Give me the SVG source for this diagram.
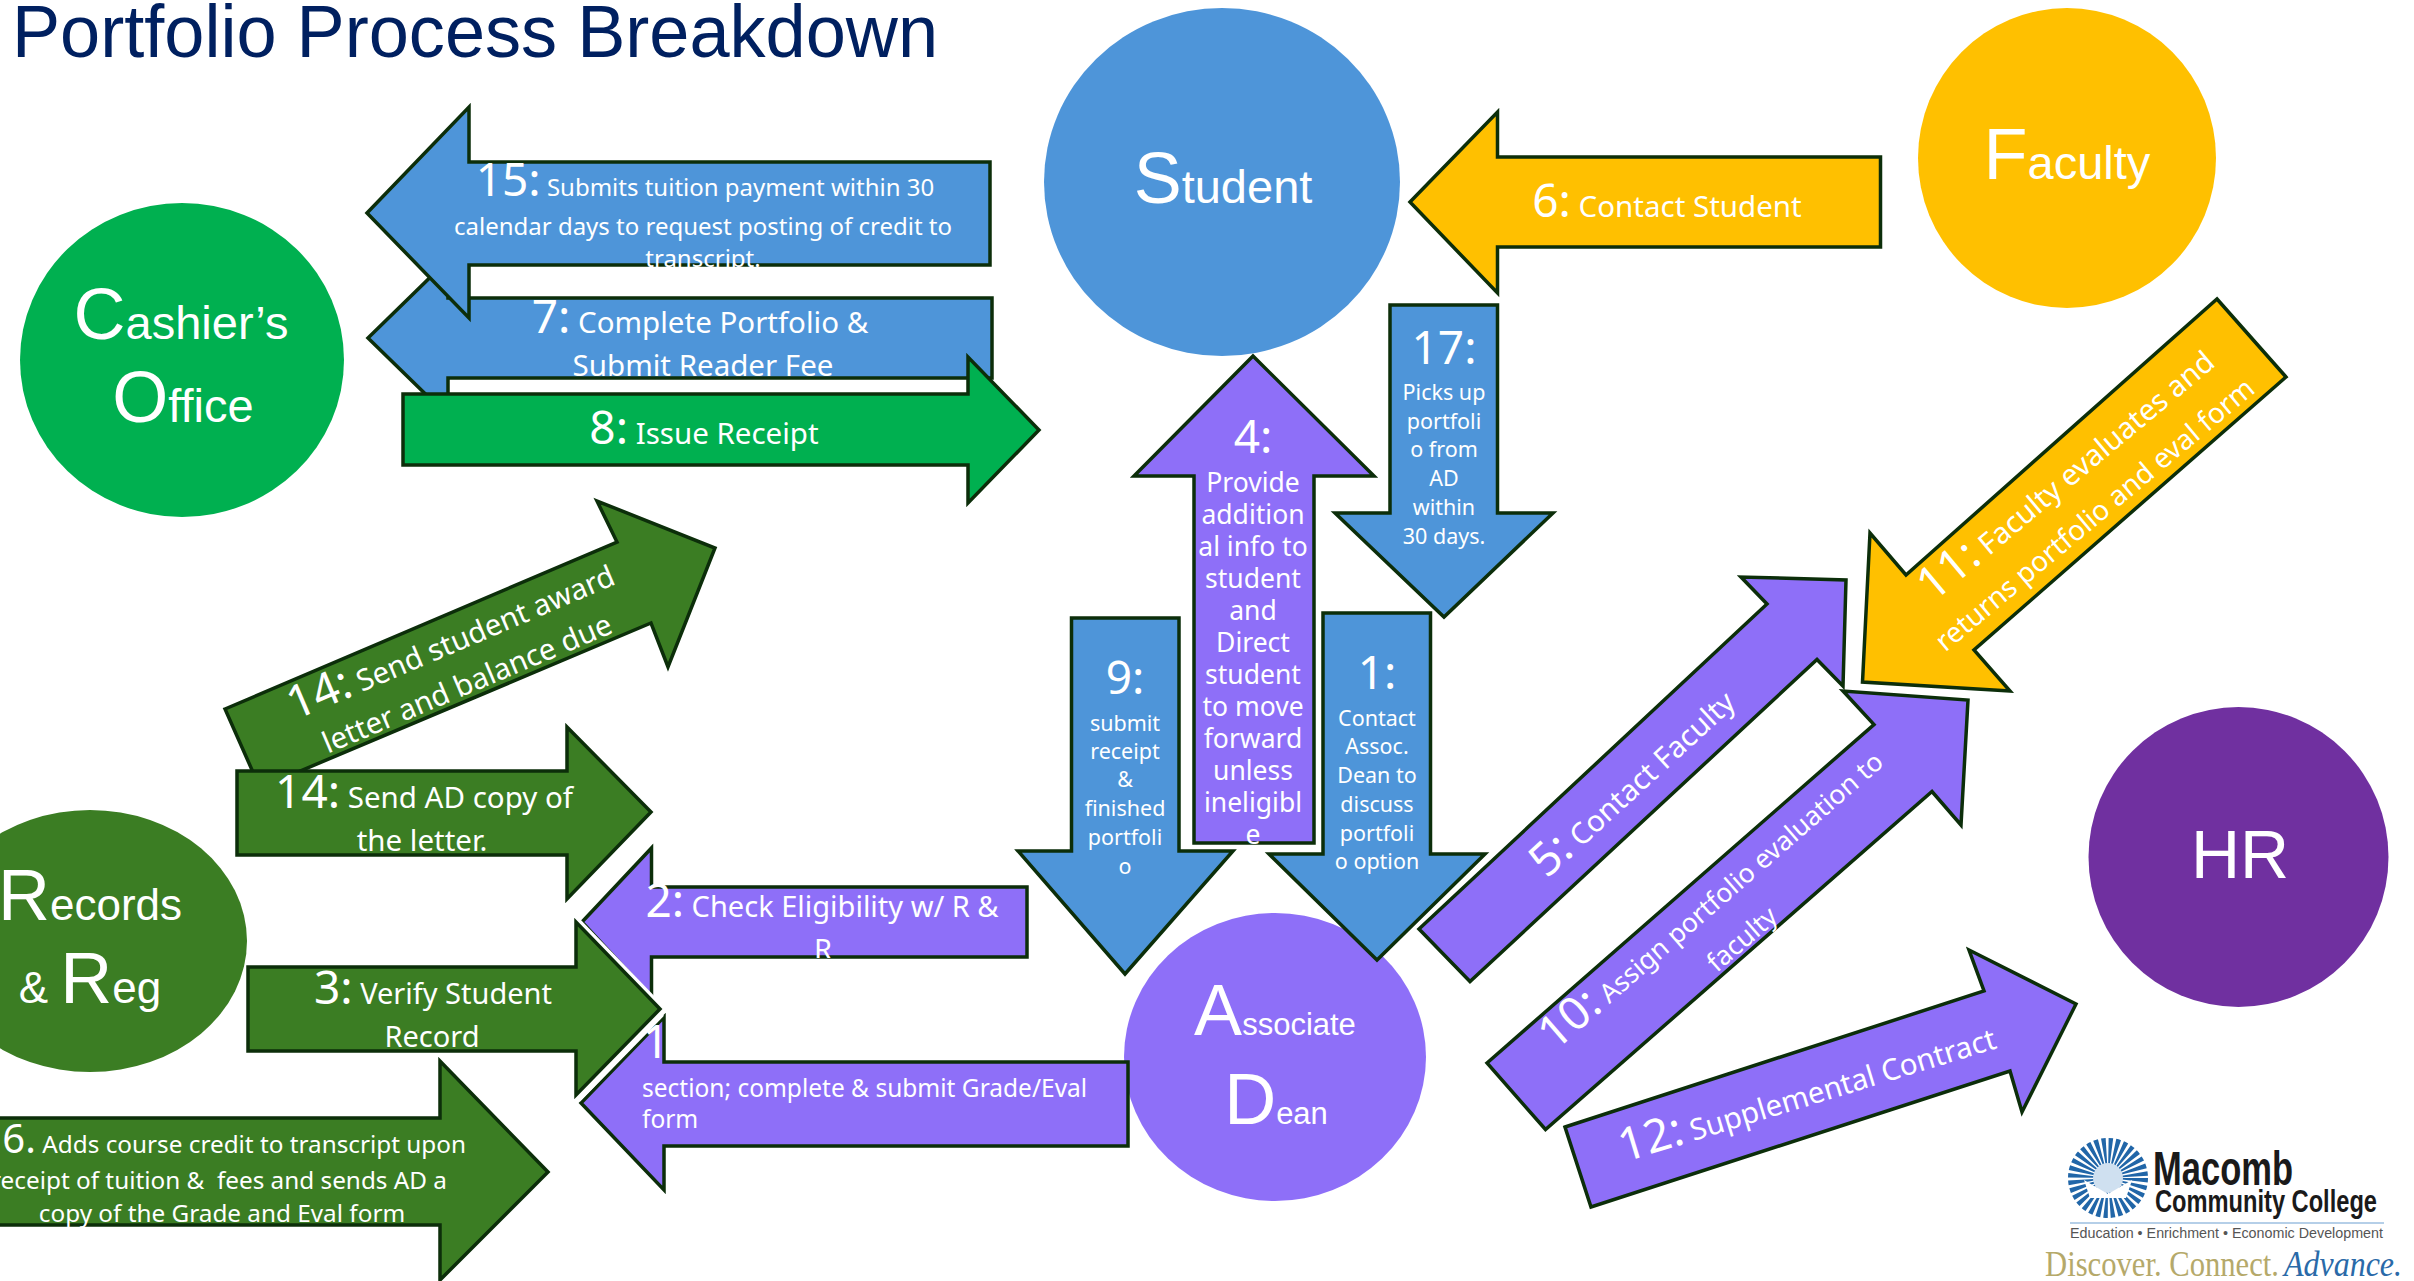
<svg xmlns="http://www.w3.org/2000/svg" width="2414" height="1281" viewBox="0 0 2414 1281">
<style>
.a{stroke:#0c2e0a;stroke-width:3.5;stroke-linejoin:miter;stroke-miterlimit:12}
.b{fill:#4e95d9}.p{fill:#8e6ff8}.g{fill:#3b7d23}.e{fill:#00b050}.y{fill:#ffc000}
text{font-family:"Noto Sans","Liberation Sans",sans-serif;fill:#fff;text-anchor:middle}
.s29{font-size:29.500px}.s28{font-size:29px}.s24{font-size:24px}.s23{font-size:24.300px}.s22{font-size:21.500px}.s26{font-size:26.500px}.s25{font-size:24.500px}.s27{font-size:28px}
.n{font-size:46px}.m{font-size:40px}
.c{font-family:"Liberation Sans",Arial,sans-serif;font-size:47px}
.c tspan{font-size:72px}
.c.k{font-size:44px}.c.j{font-size:31px}
.l{font-family:"Liberation Sans",Arial,sans-serif;text-anchor:start}
.d{font-family:"Liberation Serif","Times New Roman",serif;text-anchor:start;font-size:35px}
</style>
<defs>
<clipPath id="c15"><rect x="440" y="150" width="560" height="117"/></clipPath>
<clipPath id="c7"><rect x="440" y="290" width="560" height="90"/></clipPath>
<clipPath id="c14"><rect x="230" y="760" width="340" height="93"/></clipPath>
<clipPath id="c2"><rect x="640" y="840" width="390" height="118"/></clipPath>
<clipPath id="c3"><rect x="240" y="960" width="340" height="90"/></clipPath>
<clipPath id="c4"><rect x="1190" y="440" width="130" height="405"/></clipPath>
</defs>
<rect width="2414" height="1281" fill="#fff"/>
<text id="title" x="12" y="57" style="font-family:'Liberation Sans',Arial,sans-serif;font-size:75px;fill:#002060;text-anchor:start" textLength="926" lengthAdjust="spacingAndGlyphs">Portfolio Process Breakdown</text>

<g id="node-student"><ellipse cx="1222" cy="182" rx="178" ry="174" class="b"/><text class="c" x="1223" y="203"><tspan>S</tspan>tudent</text></g>
<g id="node-faculty"><ellipse cx="2067" cy="158" rx="149" ry="150" class="y"/><text class="c" x="2067" y="179"><tspan>F</tspan>aculty</text></g>
<g id="node-cashier"><ellipse cx="182" cy="360" rx="162" ry="157" class="e"/><text class="c" x="181" y="339"><tspan>C</tspan>ashier’s</text><text class="c" x="183" y="422"><tspan>O</tspan>ffice</text></g>
<g id="node-records"><ellipse cx="90" cy="941" rx="157" ry="131" class="g"/><text class="c k" x="90" y="920"><tspan>R</tspan>ecords</text><text class="c k" x="90" y="1003">&amp; <tspan>R</tspan>eg</text></g>
<g id="node-dean"><ellipse cx="1275" cy="1057" rx="151" ry="144" class="p"/><text class="c j" x="1275" y="1035"><tspan>A</tspan>ssociate</text><text class="c j" x="1276" y="1124"><tspan>D</tspan>ean</text></g>
<g id="node-hr"><ellipse cx="2238.500" cy="857" rx="150" ry="150" style="fill:#7030a0"/><text class="c" x="2240" y="878"><tspan style="font-size:68px">HR</tspan></text></g>

<g id="connectors">
<g id="arrow-7"><path class="a b" d="M368 338L448 260V298H992V378H448V416Z"/><text class="s29" x="700" y="333" clip-path="url(#c7)"><tspan class="n">7:</tspan> Complete Portfolio &amp;</text><text class="s29" x="703" y="376" clip-path="url(#c7)">Submit Reader Fee</text></g>
<g id="arrow-15"><path class="a b" d="M367 213L469 107V162H990V265H469V318Z"/><text class="s24" x="705" y="196"><tspan class="n">15:</tspan> Submits tuition payment within 30</text><text class="s24" x="703" y="235">calendar days to request posting of credit to</text><text class="s24" x="703" y="267" clip-path="url(#c15)">transcript.</text></g>
<g id="arrow-8"><path class="a e" d="M403 394H968V357L1039 430L968 503V465H403Z"/><text class="s29" x="704" y="444"><tspan class="n">8:</tspan> Issue Receipt</text></g>
<g id="arrow-14a"><path class="a g" d="M225 709L617 542L597 501L715 548L668 667L651 623L260 788Z"/><text class="s29" transform="translate(456 652) rotate(-23)"><tspan class="n">14:</tspan> Send student award</text><text class="s29" transform="translate(471 693) rotate(-23)">letter and balance due</text></g>
<g id="arrow-14b"><path class="a g" d="M237 771H567V727L651 812L567 899V855H237Z"/><text class="s29" x="424" y="808"><tspan class="n">14:</tspan> Send AD copy of</text><text class="s29" x="422" y="851" clip-path="url(#c14)">the letter.</text></g>
<g id="arrow-2"><path class="a p" d="M582 922L651.500 848V887H1027V957H651.500V997Z"/><text class="s28" x="822" y="917"><tspan class="n">2:</tspan> Check Eligibility w/ R &amp;</text><text class="s28" x="823" y="960" clip-path="url(#c2)">R</text></g>
<g id="arrow-1x"><path class="a p" d="M581 1103L664 1017V1062H1128V1146H664V1190Z"/><text class="n" x="656" y="1058">1</text><text class="s25" x="642" y="1097" style="text-anchor:start">section; complete &amp; submit Grade/Eval</text><text class="s25" x="642" y="1128" style="text-anchor:start">form</text></g>
<g id="arrow-3"><path d="M576 920L660 1007" fill="none" stroke="#fff" stroke-width="7"/><path d="M660 1012L576 1098" fill="none" stroke="#fff" stroke-width="11"/><path class="a g" d="M248 967H576V922L660 1009L576 1095V1051H248Z"/><text class="s28" x="433" y="1004"><tspan class="n">3:</tspan> Verify Student</text><text class="s28" x="432" y="1047" clip-path="url(#c3)">Record</text></g>
<g id="arrow-16"><path class="a g" d="M-10 1118H440V1061L548 1172L440 1280V1225H-10Z"/><text class="s23" x="466" y="1153" style="text-anchor:end"><tspan class="m">6.</tspan> Adds course credit to transcript upon</text><text class="s23" x="447" y="1189" style="text-anchor:end;white-space:pre">receipt of tuition &amp;  fees and sends AD a</text><text class="s23" x="222" y="1222">copy of the Grade and Eval form</text></g>
<g id="arrow-6"><path class="a y" d="M1410 202L1497.500 112V157H1880.500V247H1497.500V293Z"/><text class="s29" x="1667" y="217"><tspan class="n">6:</tspan> Contact Student</text></g>
<g id="arrow-17"><path class="a b" d="M1390 305H1497.500V513H1553L1444 617L1335 513H1390Z"/><text class="n" x="1444" y="364">17:</text><text class="s22" x="1444" y="400">Picks up</text><text class="s22" x="1444" y="429">portfoli</text><text class="s22" x="1444" y="457">o from</text><text class="s22" x="1444" y="486">AD</text><text class="s22" x="1444" y="515">within</text><text class="s22" x="1444" y="544">30 days.</text></g>
<g id="arrow-9"><path class="a b" d="M1071.500 618H1179V851H1233L1125 974L1018 851H1071.500Z"/><text class="n" x="1125" y="694">9:</text><text class="s22" x="1125" y="731">submit</text><text class="s22" x="1125" y="759">receipt</text><text class="s22" x="1125" y="787">&amp;</text><text class="s22" x="1125" y="816">finished</text><text class="s22" x="1125" y="845">portfoli</text><text class="s22" x="1125" y="874">o</text></g>
<g id="arrow-1"><path class="a b" d="M1323 613H1430.500V854H1485L1377 960L1269 854H1323Z"/><text class="n" x="1377" y="689">1:</text><text class="s22" x="1377" y="726">Contact</text><text class="s22" x="1377" y="754">Assoc.</text><text class="s22" x="1377" y="783">Dean to</text><text class="s22" x="1377" y="812">discuss</text><text class="s22" x="1377" y="841">portfoli</text><text class="s22" x="1377" y="869">o option</text></g>
<g id="arrow-4"><path class="a p" d="M1253 356L1374 476H1314V843H1194V476H1134Z"/><text class="n" x="1253" y="453">4:</text><text class="s26" x="1253" y="492">Provide</text><text class="s26" x="1253" y="524">addition</text><text class="s26" x="1253" y="556">al info to</text><text class="s26" x="1253" y="588">student</text><text class="s26" x="1253" y="620">and</text><text class="s26" x="1253" y="652">Direct</text><text class="s26" x="1253" y="684">student</text><text class="s26" x="1253" y="716">to move</text><text class="s26" x="1253" y="748">forward</text><text class="s26" x="1253" y="780">unless</text><text class="s26" x="1253" y="812">ineligibl</text><text class="s26" x="1253" y="844" clip-path="url(#c4)">e</text></g>
<g id="arrow-5"><path class="a p" d="M1419 929L1767 604L1741 577L1846 580L1843 686L1817 659.500L1470 981.500Z"/><text class="s29" transform="translate(1642 792) rotate(-42.500)"><tspan class="n">5:</tspan> Contact Faculty</text></g>
<g id="arrow-10"><path class="a p" d="M1487 1063L1874 724.500L1843 691L1968 700L1961 825L1932 791.500L1545.500 1129.500Z"/><text class="s26" transform="translate(1720 908) rotate(-41)"><tspan class="n">10:</tspan> Assign portfolio evaluation to</text><text class="s26" transform="translate(1748 946) rotate(-41)">faculty</text></g>
<g id="arrow-11"><path class="a y" d="M2217 299L2286 377L1974 650L2010 691L1862.500 682L1870 533L1906 575Z"/><text class="s29" transform="translate(2075 484) rotate(-40)"><tspan class="n">11:</tspan> Faculty evaluates and</text><text class="s27" transform="translate(2101 522) rotate(-40)">returns portfolio and eval form</text></g>
<g id="arrow-12"><path class="a p" d="M1565 1127L1984 991L1969 950L2076 1004L2022 1112L2010 1071L1591 1207Z"/><text class="s29" transform="translate(1811 1105) rotate(-17)"><tspan class="n">12:</tspan> Supplemental Contract</text></g>
</g>

<g id="logo">
<circle cx="2108" cy="1178" r="27" fill="none" stroke="#2166a8" stroke-width="26" stroke-dasharray="3.200 2.100"/>
<circle cx="2108" cy="1178" r="15" fill="#cfe0f0"/>
<path d="M2084 1180L2108 1194L2132 1180L2126 1198H2090Z" fill="#fff"/>
<text class="l" x="2153" y="1185" style="fill:#1a1a1a;font-size:49px;font-weight:bold" textLength="140" lengthAdjust="spacingAndGlyphs">Macomb</text>
<text class="l" x="2155" y="1212" style="fill:#1a1a1a;font-size:32px;font-weight:bold" textLength="222" lengthAdjust="spacingAndGlyphs">Community College</text>
<path d="M2070 1223H2384" stroke="#9dbfe0" stroke-width="1.500"/>
<text class="l" x="2070" y="1238" style="fill:#555;font-size:14px" textLength="313" lengthAdjust="spacingAndGlyphs">Education • Enrichment • Economic Development</text>
<text class="d" x="2045" y="1276" style="fill:#b5a96a" textLength="234" lengthAdjust="spacingAndGlyphs">Discover. Connect.</text>
<text class="d" x="2284" y="1276" style="fill:#2a6aa8;font-style:italic" textLength="118" lengthAdjust="spacingAndGlyphs">Advance.</text>
</g>
</svg>
